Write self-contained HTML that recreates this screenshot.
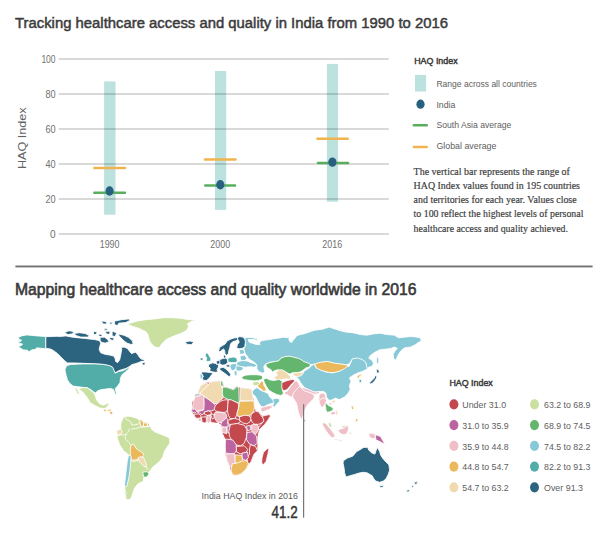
<!DOCTYPE html>
<html><head><meta charset="utf-8"><style>
html,body{margin:0;padding:0;background:#fff;width:611px;height:545px;overflow:hidden}
svg{display:block}
</style></head><body>
<svg width="611" height="545" viewBox="0 0 611 545">
<rect width="611" height="545" fill="#fff"/>
<g stroke="#fff" stroke-width="0.85" stroke-linejoin="round">
<polygon fill="#52ada9" points="18.5,337.5 21.5,335.9 26.7,334.9 31.8,335.4 37.1,335.9 45.8,336.5 45.8,348.8 41.1,348.3 37.1,347.8 35.0,349.4 31.8,349.9 28.8,351.9 27.7,350.3 23.6,349.9 21.5,348.8 19.0,347.3 18.5,346.2 21.0,345.7 22.6,344.2 19.5,343.2 16.9,342.6 20.5,341.6 21.5,340.0 19.0,339.5"/>
<polygon fill="#2c6480" points="45.8,336.7 57.2,336.3 59.2,336.6 65.8,335.9 72.6,337.2 79.2,337.9 85.9,338.5 89.7,339.1 94.7,339.6 99.7,340.7 100.7,343.6 99.7,346.7 99.2,349.6 100.7,352.7 104.7,354.2 109.7,355.1 113.7,356.1 115.2,358.7 115.7,361.6 117.7,362.6 119.7,359.7 120.8,354.6 121.7,349.6 121.2,347.2 124.7,347.2 127.7,348.7 129.7,351.6 131.7,353.7 133.7,352.7 135.7,352.2 137.7,354.6 139.7,357.6 141.7,359.2 145.2,359.7 143.6,361.1 140.7,361.6 138.7,362.6 135.7,363.6 131.7,364.7 129.7,366.6 127.7,367.6 125.7,368.6 121.7,369.7 118.7,370.7 115.7,372.6 113.7,370.7 111.7,366.6 104.7,364.7 99.7,364.2 89.7,363.6 75.5,363.0 67.4,362.9 64.3,360.5 61.4,357.4 57.4,353.5 53.3,350.4 50.4,349.0 45.8,348.2"/>
<polygon fill="#2c6480" points="64.5,332.3 69.1,330.8 73.6,331.5 72.8,333.8 67.7,334.6"/>
<polygon fill="#2c6480" points="73.7,333.5 79.4,332.7 85.2,333.5 89.4,335.7 88.0,337.1 80.8,337.1 76.5,335.7"/>
<polygon fill="#2c6480" points="93.7,331.2 97.1,332.1 96.2,334.6 93.4,334.3"/>
<polygon fill="#2c6480" points="98.9,333.9 102.4,334.7 101.4,336.5 98.9,336.5"/>
<polygon fill="#2c6480" points="100.1,337.2 104.6,337.2 107.5,339.4 109.0,341.7 105.4,343.1 101.6,342.4 100.1,340.2"/>
<polygon fill="#2c6480" points="105.4,331.3 110.2,331.3 109.4,334.6 106.2,333.8"/>
<polygon fill="#2c6480" points="112.1,331.2 116.7,332.7 115.2,336.6 112.1,335.9"/>
<polygon fill="#2c6480" points="118.3,333.9 124.1,335.3 128.3,337.3 131.9,340.3 133.3,343.7 131.1,344.5 126.9,343.1 124.1,340.9 121.1,338.1 119.1,335.9"/>
<polygon fill="#2c6480" points="109.4,337.2 114.2,338.0 113.3,340.5 110.1,339.7"/>
<polygon fill="#2c6480" points="101.4,320.9 106.1,321.6 107.0,324.0 103.0,324.0"/>
<polygon fill="#2c6480" points="114.5,321.1 121.6,319.7 128.7,318.9 130.1,320.3 125.9,322.5 118.7,323.2 117.8,325.3 115.9,325.3 114.5,323.9"/>
<polygon fill="#2c6480" points="104.1,328.8 107.6,328.8 106.8,330.5 104.5,330.5"/>
<polygon fill="#2c6480" points="109.7,322.2 112.4,322.2 111.7,324.3 109.7,324.0"/>
<polygon fill="#2c6480" points="185.4,341.8 190.1,341.0 193.9,342.1 191.2,344.7 186.6,344.2"/>
<polygon fill="#2c6480" points="142.1,362.8 144.8,362.1 145.2,364.8 142.5,365.2"/>
<polygon fill="#c9e0a0" points="127.1,324.3 132.5,322.4 137.8,321.0 145.8,319.7 153.8,319.0 159.2,318.3 164.5,317.7 172.6,317.7 180.6,318.3 188.7,319.7 196.0,319.9 191.3,321.6 187.3,323.7 188.7,326.3 186.6,330.3 181.9,333.0 176.6,335.0 171.3,337.1 165.9,339.7 161.9,343.7 159.2,347.8 155.2,347.1 151.2,343.7 149.2,339.7 147.9,334.4 145.8,331.7 139.1,328.4 132.5,326.3"/>
<polygon fill="#52ada9" points="66.7,365.6 70.9,364.4 82.5,363.9 94.3,363.9 103.5,364.4 109.5,365.6 112.9,367.4 114.1,370.8 115.3,373.2 118.8,371.4 122.3,370.8 126.9,368.5 129.9,366.2 129.3,368.0 126.9,370.8 122.3,374.4 120.5,377.9 120.0,382.6 117.6,386.1 115.3,388.4 116.4,394.2 115.3,394.8 113.6,389.6 110.6,388.4 105.9,389.0 101.2,389.6 97.7,390.8 95.4,393.1 93.0,391.4 90.7,389.6 87.2,387.8 82.5,387.3 77.8,386.7 73.1,386.1 69.6,383.2 67.3,379.6 66.2,375.5 64.9,369.7"/>
<polygon fill="#c9e0a0" points="78.8,388.4 83.6,387.7 87.2,387.7 89.6,389.5 92.5,391.4 94.4,393.7 95.6,396.9 96.8,400.1 99.4,403.5 102.9,405.2 105.4,404.4 108.0,402.7 108.8,404.4 106.2,407.8 103.7,408.6 99.4,407.8 94.3,405.2 90.0,402.7 88.3,399.2 85.9,395.9 83.0,392.2 79.9,390.1"/>
<polygon fill="#c9e0a0" points="74.1,386.4 77.0,388.7 79.3,393.3 78.2,395.1 75.9,391.0"/>
<polygon fill="#ebb95c" points="103.1,410.0 105.9,408.9 106.4,411.2 104.2,411.7"/>
<polygon fill="#ebb95c" points="106.7,410.0 110.8,409.0 112.4,410.0 109.8,411.2 107.7,411.2"/>
<polygon fill="#ebb95c" points="109.3,412.0 112.4,411.0 112.9,414.0 110.9,415.0"/>
<polygon fill="#c9e0a0" points="124.6,416.3 130.2,416.3 136.7,418.2 139.4,419.9 141.7,419.4 143.5,422.0 146.2,422.1 149.6,423.0 150.2,426.0 151.8,429.6 155.2,432.1 162.8,435.0 169.3,437.7 169.9,443.3 166.5,448.0 164.4,451.5 162.8,457.1 159.4,461.6 156.0,464.4 152.6,467.2 150.4,470.5 148.1,472.8 147.6,476.1 144.8,477.2 143.2,478.3 143.7,480.6 141.4,482.3 138.7,483.4 137.0,485.0 134.7,487.9 133.6,490.7 132.5,494.1 131.4,497.4 129.1,499.7 126.4,499.7 125.8,497.4 125.1,491.5 124.7,485.6 125.8,478.3 126.9,469.4 128.0,461.6 128.9,456.0 128.2,454.5 123.7,450.8 119.9,445.2 117.1,437.7 119.0,433.0 120.8,429.4 120.8,423.8 122.6,419.1"/>
<polygon fill="#ebb95c" points="139.8,420.3 141.7,419.8 143.7,422.9 143.0,426.8 141.1,426.8 140.2,423.6"/>
<polygon fill="#ebb95c" points="143.5,423.3 146.3,422.6 147.7,425.3 145.7,426.7 143.5,426.1"/>
<polygon fill="#c8c8c8" points="147.5,423.4 149.4,423.4 149.7,426.3 147.7,426.6"/>
<polygon fill="#f2dab0" points="116.6,430.4 120.5,429.1 122.4,431.7 120.5,435.0 117.9,435.5 116.6,433.0"/>
<polygon fill="#ebb95c" points="131.0,445.1 133.9,444.4 135.7,447.9 138.6,450.3 142.7,452.6 143.9,455.6 141.6,457.4 138.6,459.7 135.7,459.7 132.7,460.3 131.0,458.5 130.3,453.8 130.3,449.1"/>
<polygon fill="#f2dab0" points="137.9,457.8 141.1,456.6 143.5,457.8 145.3,461.5 146.5,465.2 145.3,467.1 142.8,465.2 140.4,462.7 138.6,460.3"/>
<polygon fill="#64b56e" points="142.7,472.2 147.0,471.6 149.0,473.7 147.0,477.0 143.7,477.0"/>
<polygon fill="#88c9d7" points="128.6,454.8 131.1,456.3 130.4,466.8 129.2,476.2 127.9,481.9 126.6,486.6 124.3,486.1 125.3,478.3 126.3,468.9 127.4,460.5"/>
<polygon fill="#88c9d7" points="124.6,492.0 126.3,492.3 126.0,494.4 124.6,494.1"/>
<polygon fill="#88c9d7" points="244.9,337.9 246.3,337.4 251.3,337.5 256.4,338.4 259.0,342.6 262.0,340.6 269.0,339.6 273.9,338.7 280.9,337.7 282.8,337.2 288.8,337.7 290.8,339.6 292.7,340.6 294.7,338.7 296.7,335.7 299.8,334.7 304.3,333.7 309.3,332.0 314.3,330.3 322.5,329.2 329.1,327.1 334.0,328.7 339.0,330.3 345.6,332.0 353.8,332.9 360.3,334.5 366.8,335.2 373.5,333.9 380.0,333.2 386.7,334.5 394.6,335.2 398.6,337.8 403.8,337.2 410.5,336.5 415.7,336.9 420.4,337.8 421.3,341.1 418.4,342.4 415.7,344.5 410.5,347.1 405.1,347.7 402.5,349.3 399.9,352.3 397.9,355.6 395.7,360.3 393.6,358.3 393.2,354.3 394.9,351.0 397.3,348.4 394.6,347.1 390.6,348.4 386.7,349.0 380.0,349.7 374.8,352.3 370.2,355.6 368.8,358.3 372.2,360.3 373.5,363.5 372.2,366.2 368.2,367.5 367.0,369.2 366.2,365.8 365.4,362.6 362.1,360.1 357.1,358.5 352.2,359.3 348.9,364.2 345.6,365.0 340.7,364.2 334.0,363.4 327.5,361.7 320.8,362.6 315.1,364.2 309.8,364.6 306.3,362.9 302.9,361.7 300.6,360.0 298.2,358.8 293.6,357.7 289.1,356.6 284.4,357.1 280.9,358.3 278.7,361.1 275.1,361.7 269.4,362.3 265.3,364.3 263.8,366.7 264.8,371.7 262.7,373.2 258.8,371.7 256.8,368.8 256.8,364.7 254.9,362.8 251.9,360.8 248.9,358.9 246.9,355.8 244.9,352.9 243.9,348.9 245.8,345.0 244.9,341.9"/>
<polygon fill="#ffffff" points="248.2,339.5 254.7,339.5 259.1,342.2 260.1,344.4 255.8,344.4 249.3,342.2"/>
<polygon fill="#ffffff" points="289.3,338.0 291.8,339.3 292.4,341.9 290.5,342.2 288.9,339.9"/>
<polygon fill="#88c9d7" points="376.9,356.9 378.7,357.5 378.7,362.3 377.5,364.6 376.3,361.1"/>
<polygon fill="#2c6480" points="218.7,350.5 219.7,347.3 222.5,345.6 225.1,344.0 227.3,340.8 230.5,339.2 233.7,338.1 237.5,337.6 238.6,339.2 235.9,340.8 232.6,341.8 230.5,344.0 229.9,347.3 228.9,350.5 228.3,353.7 226.7,355.2 225.1,354.2 224.6,350.5 223.6,348.9 221.3,350.5 219.7,352.1"/>
<polygon fill="#2c6480" points="237.1,337.7 239.8,336.6 242.6,337.1 244.8,338.8 245.4,342.1 244.8,346.5 242.6,348.2 239.3,348.8 236.5,347.7 237.6,344.3 239.3,342.1 238.2,339.9"/>
<polygon fill="#52ada9" points="205.7,352.9 208.0,353.3 209.2,355.8 210.9,358.6 210.7,361.3 207.5,361.5 206.0,360.4 206.7,358.1 205.2,355.8"/>
<polygon fill="#2c6480" points="200.2,358.0 203.0,358.0 203.0,360.1 200.2,360.1"/>
<polygon fill="#2c6480" points="208.6,364.5 212.6,362.8 215.4,363.4 218.7,365.0 218.1,367.8 217.0,369.6 218.1,371.8 215.4,372.3 212.0,371.8 209.7,370.7 210.3,368.3 208.6,366.7"/>
<polygon fill="#2c6480" points="201.1,372.1 205.0,371.9 210.5,372.6 213.3,373.2 211.6,374.8 209.4,378.1 206.6,380.4 203.9,380.4 202.2,378.7 203.3,375.9 201.7,374.3"/>
<polygon fill="#88c9d7" points="199.9,373.9 202.1,373.9 202.9,376.5 202.1,378.9 200.2,378.4"/>
<polygon fill="#2c6480" points="218.7,360.1 222.8,358.5 225.6,357.9 227.2,359.0 227.8,362.4 225.6,364.6 222.8,365.2 219.8,364.1 218.7,362.4"/>
<polygon fill="#52ada9" points="227.8,358.1 233.4,356.9 236.8,358.1 237.4,361.4 235.2,362.6 230.0,362.6 227.8,361.4"/>
<polygon fill="#2c6480" points="225.9,365.1 229.6,364.5 230.2,367.0 226.5,367.0"/>
<polygon fill="#2c6480" points="219.7,368.0 223.3,367.3 226.1,369.0 228.3,371.2 230.8,374.2 230.3,376.4 228.6,376.3 226.6,374.7 224.4,373.1 222.2,371.6 219.9,370.0"/>
<polygon fill="#88c9d7" points="231.0,363.9 235.7,363.4 237.9,366.2 235.7,368.5 233.3,370.9 231.0,369.7 229.9,366.8"/>
<polygon fill="#88c9d7" points="236.0,366.0 241.7,365.4 243.4,368.3 241.7,370.7 237.7,371.2 236.0,369.5"/>
<polygon fill="#88c9d7" points="234.1,371.0 236.6,370.4 237.2,374.7 235.4,375.9 234.1,373.5"/>
<polygon fill="#88c9d7" points="239.0,349.9 243.6,349.4 244.8,353.4 240.2,354.6"/>
<polygon fill="#88c9d7" points="240.0,355.9 244.6,355.3 247.0,358.3 244.6,360.6 240.5,360.1"/>
<polygon fill="#88c9d7" points="236.7,362.2 242.1,360.5 247.6,361.1 250.2,362.4 254.0,363.4 256.7,365.1 255.1,367.2 249.7,366.7 245.4,367.2 239.9,366.4 236.7,364.8"/>
<polygon fill="#64b56e" points="241.7,376.9 245.1,375.2 250.9,374.7 256.5,374.7 261.0,375.2 262.7,376.9 262.2,379.2 258.8,380.4 254.2,380.9 249.7,380.4 245.1,379.8 242.4,379.2"/>
<polygon fill="#2c6480" points="223.3,355.3 225.6,355.0 225.9,357.9 223.7,358.3"/>
<polygon fill="#2c6480" points="216.1,361.3 219.8,360.1 219.8,363.8 216.7,364.4"/>
<polygon fill="#64b56e" points="265.7,364.3 269.5,362.6 275.0,361.5 278.8,360.8 281.1,358.0 284.7,356.7 289.4,356.2 294.1,357.3 298.8,358.5 301.2,359.7 303.6,361.5 307.1,362.7 310.7,364.5 309.5,366.8 305.9,368.0 303.6,369.7 301.2,371.5 297.7,372.7 294.1,372.7 289.4,373.9 285.8,372.1 282.3,371.0 277.6,369.7 274.0,371.0 272.3,372.1 271.0,369.7 266.9,367.4"/>
<polygon fill="#ebb95c" points="314.5,364.0 320.4,362.3 327.3,361.4 334.1,363.1 340.9,364.0 346.0,364.8 349.4,366.6 346.0,369.1 340.9,370.8 335.7,372.5 329.0,372.5 322.2,370.8 317.0,369.1"/>
<polygon fill="#88c9d7" points="295.3,377.0 297.8,373.5 302.5,372.4 306.0,370.0 309.6,367.7 311.9,365.3 314.3,364.2 316.1,367.9 321.1,370.3 326.1,372.1 332.7,372.9 339.4,371.3 344.4,368.7 347.8,366.3 349.0,366.4 352.4,358.8 357.4,358.0 362.4,359.6 365.7,362.2 366.5,365.5 367.4,368.8 362.8,371.3 357.8,372.9 352.8,375.4 349.4,377.9 351.1,381.3 349.4,385.4 350.2,389.6 347.8,393.8 344.4,397.1 339.4,399.6 335.1,398.0 332.5,399.7 329.1,400.5 326.6,397.2 325.8,393.0 323.3,391.3 319.2,391.8 314.2,392.2 311.6,391.3 308.2,389.7 304.1,387.2 300.8,383.0 297.8,378.0"/>
<polygon fill="#f2dab0" points="273.8,377.1 277.3,375.4 276.1,372.6 278.3,370.2 281.8,369.7 285.2,371.4 287.5,373.7 290.9,377.1 289.9,379.4 286.4,378.8 283.0,379.4 279.5,380.0 276.1,380.0"/>
<polygon fill="#f2dab0" points="292.4,372.8 298.0,372.6 303.7,372.6 301.4,375.6 296.9,376.8 293.5,375.6"/>
<polygon fill="#64b56e" points="303.7,419.4 305.4,419.7 305.6,422.2 304.0,421.8"/>
<polygon fill="#88c9d7" points="251.9,391.9 254.4,388.9 257.0,387.6 261.3,390.6 264.7,391.9 268.2,393.6 269.8,397.1 272.5,399.6 274.7,401.4 273.7,403.1 269.8,403.9 266.5,405.3 263.8,406.9 261.3,406.5 258.7,403.1 257.0,399.6 255.2,396.2 252.7,394.0"/>
<polygon fill="#88c9d7" points="272.4,399.2 276.2,398.3 279.0,398.7 279.9,401.1 277.1,403.8 274.4,407.1 272.4,406.2 273.9,402.9"/>
<polygon fill="#efbec6" points="260.9,407.6 264.4,406.7 268.1,405.8 271.8,405.4 272.2,407.6 269.0,409.5 265.4,410.8 262.2,412.2 260.9,410.4"/>
<polygon fill="#ebb95c" points="257.4,384.9 260.3,382.5 261.5,380.7 263.3,381.9 263.9,385.4 265.7,387.9 266.3,390.2 263.9,391.5 261.0,389.0 258.0,387.2"/>
<polygon fill="#c9e0a0" points="252.6,382.1 257.1,381.5 260.0,382.3 258.9,384.6 256.0,385.8 253.0,385.2"/>
<polygon fill="#64b56e" points="263.1,379.4 266.5,378.2 269.9,379.9 274.4,380.4 278.8,379.4 282.2,381.1 282.7,385.5 282.2,388.8 283.4,393.4 281.0,395.6 276.6,394.4 272.1,392.2 268.7,390.0 266.5,386.6 264.8,383.3"/>
<polygon fill="#c3494f" points="281.8,382.8 285.9,381.0 290.5,379.8 294.0,379.3 294.5,381.6 291.7,383.9 289.4,386.8 287.0,389.7 283.5,390.8 281.8,388.0"/>
<polygon fill="#efbec6" points="284.5,392.1 287.2,391.2 289.7,387.7 292.4,384.1 294.1,381.6 296.8,380.7 298.5,383.3 300.2,386.8 298.5,388.5 295.8,391.2 293.3,394.7 292.8,397.3 289.7,396.4 287.2,394.7 284.5,394.3"/>
<polygon fill="#efbec6" points="292.8,394.1 295.3,390.7 297.9,388.1 299.6,386.4 301.3,386.9 303.8,389.9 305.6,390.7 308.9,391.5 310.7,392.4 313.2,394.1 314.6,396.6 313.2,399.2 310.7,401.7 308.1,404.3 306.4,406.8 305.1,409.4 303.8,412.9 302.6,417.1 301.8,419.2 300.4,418.0 299.2,414.5 297.9,410.3 297.1,406.0 296.2,402.7 294.5,400.1 292.8,397.5"/>
<polygon fill="#efbec6" points="300.7,387.1 304.6,388.3 308.6,389.4 312.2,391.1 314.9,392.0 320.2,391.5 318.7,393.7 314.3,394.3 310.0,392.6 305.1,391.1 303.3,390.2"/>
<polygon fill="#efbec6" points="319.0,394.9 321.7,393.0 324.6,393.6 325.9,396.7 325.9,399.2 324.8,398.5 321.8,399.1 318.9,401.9 319.0,399.6"/>
<polygon fill="#efbec6" points="318.9,401.3 321.8,398.5 324.7,397.9 326.6,400.4 325.6,403.3 323.7,406.2 321.8,407.7 320.3,405.2"/>
<polygon fill="#64b56e" points="324.9,404.5 326.9,403.5 328.4,405.5 330.8,406.4 333.2,408.3 332.7,410.4 329.9,411.8 326.9,412.3 325.9,409.8 325.5,406.4"/>
<polygon fill="#efbec6" points="328.8,402.3 331.8,403.0 331.2,405.3 329.5,404.7"/>
<polygon fill="#efbec6" points="330.6,411.9 334.7,411.5 335.8,414.0 332.6,415.1 331.0,414.0"/>
<polygon fill="#f2dab0" points="331.2,400.9 334.6,399.8 335.7,402.0 333.4,403.1"/>
<polygon fill="#f2dab0" points="335.5,410.5 337.5,410.1 338.0,414.2 336.0,415.7"/>
<polygon fill="#efbec6" points="322.6,422.7 325.5,423.1 328.7,426.8 332.3,431.3 334.9,435.1 334.6,437.7 331.5,437.5 328.0,433.6 325.2,429.6 322.5,425.1"/>
<polygon fill="#c9e0a0" points="328.0,423.0 330.6,422.5 331.7,425.8 330.6,427.9 329.0,425.8"/>
<polygon fill="#efbec6" points="337.7,429.9 340.6,428.9 343.3,428.0 346.2,426.0 347.7,425.1 348.7,428.0 347.7,431.8 345.8,434.6 342.5,434.6 339.6,432.8"/>
<polygon fill="#c9e0a0" points="340.2,427.0 344.5,425.3 346.1,426.3 343.4,428.0"/>
<polygon fill="#efbec6" points="334.4,438.8 337.8,439.3 337.6,440.6 334.4,440.1"/>
<polygon fill="#efbec6" points="338.7,439.6 342.1,440.2 341.9,441.4 338.7,440.9"/>
<polygon fill="#efbec6" points="349.1,432.2 351.6,432.5 351.3,434.2 349.1,433.9"/>
<polygon fill="#ebb95c" points="350.9,406.3 353.0,405.8 353.7,408.5 352.0,410.2"/>
<polygon fill="#ebb95c" points="355.2,419.4 357.4,418.2 358.1,421.0 355.7,422.2"/>
<polygon fill="#efbec6" points="368.5,433.2 374.1,433.2 376.0,437.8 372.2,438.8 369.4,436.8"/>
<polygon fill="#bc64a0" points="375.1,434.6 380.5,436.4 385.1,444.6 378.7,441.0 376.0,440.1"/>
<polygon fill="#ebb95c" points="357.0,376.4 358.7,375.1 361.4,374.1 362.4,375.1 359.7,376.4 358.3,378.7 357.3,378.7"/>
<polygon fill="#52ada9" points="358.9,379.7 361.2,379.3 361.7,382.1 359.4,383.1"/>
<polygon fill="#2c6480" points="369.5,382.9 371.8,380.6 374.1,378.3 375.4,375.4 376.9,375.8 376.4,378.3 374.6,380.9 372.4,383.2 370.4,384.0"/>
<polygon fill="#2c6480" points="376.2,369.1 378.8,369.7 379.3,372.8 376.8,373.2"/>
<polygon fill="#2c6480" points="343.3,460.8 347.4,458.1 352.7,456.2 356.7,451.5 359.4,450.1 363.5,447.5 367.5,447.2 368.8,450.1 371.5,452.8 374.9,454.1 376.2,450.1 377.5,447.5 379.6,451.5 380.9,455.5 383.6,459.5 386.3,462.2 388.9,464.9 389.6,470.2 388.3,474.2 386.3,478.3 383.6,481.0 379.6,482.3 375.6,481.0 373.5,478.3 372.2,475.7 369.5,474.2 367.5,472.9 363.5,472.3 359.4,472.9 355.4,474.2 350.1,475.7 346.0,477.0 344.6,472.9 344.0,467.6 343.1,463.6"/>
<polygon fill="#2c6480" points="379.4,485.6 383.7,485.8 382.8,487.6 380.2,487.4"/>
<polygon fill="#2c6480" points="406.4,490.4 409.9,489.4 408.7,492.0 406.4,491.7"/>
<polygon fill="#2c6480" points="410.9,485.8 413.6,485.5 412.9,487.8"/>
<polygon fill="#2c6480" points="414.2,482.3 417.7,481.5 416.7,484.2 414.5,484.2"/>
<polygon fill="#c3494f" stroke="#c3494f" points="200.7,387.0 203.2,384.5 205.6,383.3 209.7,382.9 213.8,381.7 218.7,381.3 222.4,381.7 222.8,384.5 222.8,387.8 226.1,387.4 229.4,388.6 233.5,389.9 236.7,387.0 238.4,387.8 240.6,388.3 247.2,388.8 251.3,389.6 252.1,396.2 253.6,401.4 253.6,406.8 255.5,411.7 258.5,412.2 262.4,416.6 269.3,415.1 269.8,416.6 267.3,420.5 264.4,424.5 261.4,427.4 259.5,429.4 258.5,431.0 257.5,433.8 257.0,437.0 257.0,442.8 257.0,451.0 253.7,454.3 252.1,458.4 250.5,462.5 248.0,464.1 245.6,469.0 241.5,473.1 237.4,474.7 233.3,474.7 231.6,470.6 230.0,466.6 227.6,460.8 225.9,454.3 225.6,446.1 225.9,439.5 224.0,435.0 222.3,432.0 222.3,427.4 221.3,424.5 218.4,422.5 214.0,422.0 210.5,421.5 206.6,421.5 204.6,422.5 202.2,422.0 199.2,418.6 195.8,417.6 194.3,414.6 192.4,411.7 191.9,409.7 192.9,407.8 192.4,402.4 195.8,397.9 195.0,397.0 198.7,393.5 198.7,391.5"/>
<polygon fill="#f2dab0" points="198.2,391.9 200.4,386.9 203.2,384.1 205.8,382.8 207.7,383.7 208.6,386.0 205.8,387.3 203.2,389.7 201.3,392.8 199.5,394.1"/>
<polygon fill="#f2dab0" points="207.9,385.5 209.5,382.5 213.8,381.3 218.9,380.8 220.7,382.1 221.5,385.9 222.4,388.5 222.8,394.5 223.6,397.0 222.4,398.8 219.9,400.5 216.4,403.9 213.8,403.1 209.5,400.5 205.2,397.0 201.5,394.5 200.1,393.1 202.7,390.2 206.2,387.6"/>
<polygon fill="#64b56e" points="220.6,381.2 222.5,381.2 223.0,384.6 222.1,387.7 220.6,384.6"/>
<polygon fill="#64b56e" points="222.4,387.5 225.8,387.1 229.3,388.3 233.7,389.7 237.0,386.6 238.8,387.5 239.3,403.1 237.0,402.6 231.9,400.5 227.5,399.2 223.2,397.0 222.4,393.5"/>
<polygon fill="#f2dab0" points="240.2,387.9 247.2,388.5 251.5,389.3 252.8,396.3 253.1,401.2 240.2,400.9"/>
<polygon fill="#efbec6" points="194.8,396.8 199.5,395.1 202.6,394.7 204.3,396.4 204.3,403.4 204.7,409.4 200.0,410.3 197.4,410.7 194.8,411.1 192.6,408.3 193.2,401.9"/>
<polygon fill="#c8c8c8" points="194.5,394.2 198.5,393.2 200.4,394.2 199.9,395.7 196.4,396.6 194.5,397.6"/>
<polygon fill="#bc64a0" points="203.8,396.5 209.9,400.4 215.1,404.8 216.0,406.1 215.1,409.2 211.7,410.9 207.3,410.9 203.8,413.5 202.1,414.8 199.5,413.1 196.9,411.8 203.8,410.0 204.2,403.1"/>
<polygon fill="#c3494f" points="215.9,404.9 220.3,401.4 223.7,400.1 226.8,399.7 228.1,400.5 228.1,404.9 227.7,409.3 226.4,412.0 222.9,412.4 219.4,412.0 215.9,411.0 214.1,409.3 215.1,406.2"/>
<polygon fill="#c3494f" points="228.4,399.6 231.7,400.0 236.1,402.2 238.7,403.9 238.3,409.1 236.9,414.3 235.2,418.6 230.1,418.6 228.4,415.2 227.4,410.8 227.8,404.8"/>
<polygon fill="#ebb95c" points="239.5,401.4 253.7,400.9 254.5,406.6 253.9,410.7 250.9,414.8 247.9,415.9 244.7,415.4 241.6,416.4 237.9,416.4 237.0,412.8 238.5,408.7 239.0,404.5"/>
<polygon fill="#efbec6" points="215.1,412.3 220.4,412.3 225.7,413.4 226.8,416.5 225.7,419.8 222.4,422.4 218.2,422.9 216.1,420.7 214.0,416.5"/>
<polygon fill="#bc64a0" points="191.4,409.4 195.0,408.8 196.8,411.3 195.0,413.1 192.0,411.9"/>
<polygon fill="#c3494f" points="193.8,414.3 199.0,413.9 201.2,416.1 199.4,419.0 195.5,417.8"/>
<polygon fill="#c3494f" points="204.1,412.0 208.7,410.9 211.5,412.6 210.9,414.8 207.6,415.4 204.6,414.3"/>
<polygon fill="#c3494f" points="201.3,417.2 205.8,416.7 207.0,420.6 204.7,422.9 201.9,422.3"/>
<polygon fill="#efbec6" points="206.9,415.6 210.2,415.1 210.8,421.8 208.0,423.5 206.9,420.7"/>
<polygon fill="#c3494f" points="210.6,414.2 213.7,414.2 214.3,417.9 212.4,419.1"/>
<polygon fill="#efbec6" points="197.6,418.2 201.3,418.2 201.9,421.3 198.8,421.3"/>
<polygon fill="#bc64a0" points="221.9,421.8 226.4,418.0 228.5,420.1 227.4,423.5 229.6,426.7 226.4,427.8 221.9,426.7 220.8,424.6"/>
<polygon fill="#c3494f" points="227.6,420.4 234.1,418.3 238.4,419.4 240.6,421.5 237.4,423.7 232.0,424.8 228.7,424.2"/>
<polygon fill="#c3494f" points="239.3,416.9 244.6,415.2 249.0,415.8 251.1,418.5 250.0,421.7 246.8,423.9 242.6,422.8 239.8,420.6"/>
<polygon fill="#c3494f" points="251.2,414.3 255.4,411.2 258.6,411.8 261.7,416.5 264.9,418.6 263.8,421.7 259.7,423.9 255.4,424.9 252.3,422.3 250.7,418.6"/>
<polygon fill="#c3494f" points="262.3,416.1 269.8,414.5 270.3,416.1 267.6,420.4 264.4,424.7 261.2,427.8 259.1,430.0 258.1,427.8 261.2,424.1 263.9,420.9"/>
<polygon fill="#efbec6" points="251.2,425.1 256.7,424.0 258.9,427.2 257.8,431.5 255.6,434.3 253.4,432.6 251.2,429.4"/>
<polygon fill="#bc64a0" points="246.3,426.1 250.3,425.5 250.9,429.6 247.5,430.8"/>
<polygon fill="#efbec6" points="222.0,427.0 226.6,427.0 226.6,433.7 222.0,432.3"/>
<polygon fill="#bc64a0" points="227.0,426.0 230.4,426.0 230.4,433.8 227.3,432.3"/>
<polygon fill="#c3494f" points="230.5,424.4 237.4,423.5 244.2,425.2 246.8,429.5 246.8,436.4 244.2,443.2 240.7,445.8 235.6,444.9 232.3,441.5 229.6,436.4 228.8,431.2"/>
<polygon fill="#bc64a0" points="225.6,439.0 232.6,439.9 236.0,444.3 237.0,449.5 234.3,453.9 229.1,453.9 225.6,452.9 225.3,446.0"/>
<polygon fill="#bc64a0" points="246.9,432.6 252.1,431.7 256.5,436.1 257.4,443.1 253.8,445.8 249.4,443.9 246.5,439.5"/>
<polygon fill="#c3494f" points="236.1,446.6 244.1,445.7 247.7,449.3 245.9,452.8 240.5,453.8 236.6,452.0"/>
<polygon fill="#c3494f" points="250.4,444.6 255.7,446.4 257.4,450.8 253.9,454.3 252.2,458.7 250.4,463.1 247.8,464.0 246.9,457.8 249.5,454.3 249.5,449.0"/>
<polygon fill="#bc64a0" points="242.0,453.1 247.5,452.1 248.4,457.7 245.7,460.4 242.0,458.6"/>
<polygon fill="#ebb95c" points="235.4,454.7 241.8,455.5 242.7,460.1 239.0,463.7 234.5,462.8"/>
<polygon fill="#efbec6" points="225.5,453.8 234.3,453.8 235.2,462.6 233.5,467.9 229.9,467.0 227.3,460.8"/>
<polygon fill="#ebb95c" points="232.1,463.9 237.3,463.0 241.6,461.2 246.8,460.4 248.5,463.9 246.0,469.1 241.6,473.4 237.3,475.1 232.9,475.1 231.1,470.8"/>
<polygon fill="#c3494f" points="263.5,452.3 266.9,448.9 269.1,448.0 267.9,454.1 266.1,461.2 263.5,464.7 261.6,463.0 262.0,457.7"/>
<polyline fill="none" stroke="#fff" stroke-width="0.8" stroke-linejoin="round" points="125.2,417.0 126.3,419.7 129.6,420.8 131.3,423.0 131.8,425.2 135.1,424.7 138.4,424.1 140.1,422.0"/><polyline fill="none" stroke="#fff" stroke-width="0.8" stroke-linejoin="round" points="129.6,428.5 128.5,431.8 126.3,434.0 125.2,436.8 125.8,439.5 128.5,442.3 131.3,445.0"/><polyline fill="none" stroke="#fff" stroke-width="0.8" stroke-linejoin="round" points="131.3,429.1 136.2,428.5 140.6,426.9 145.0,426.9 149.4,426.3"/><polyline fill="none" stroke="#fff" stroke-width="0.8" stroke-linejoin="round" points="118.6,434.0 123.0,435.1 126.3,434.0"/><polyline fill="none" stroke="#fff" stroke-width="0.8" stroke-linejoin="round" points="130.7,460.4 134.0,461.5 138.4,460.4"/><polyline fill="none" stroke="#fff" stroke-width="0.8" stroke-linejoin="round" points="146.1,466.0 147.0,468.5 148.3,470.0"/>
</g>
<rect x="104.1" y="81.4" width="11.4" height="133.3" fill="#bce2e0"/>
<rect x="215" y="71" width="11.2" height="138.9" fill="#bce2e0"/>
<rect x="326.9" y="63.9" width="11.1" height="137.8" fill="#bce2e0"/>
<rect x="58.7" y="58.10" width="330.1" height="1.8" fill="#000" fill-opacity="0.17"/>
<text x="55.6" y="62.6" font-family="Liberation Sans" font-size="10.2" font-weight="normal" fill="#707070" text-anchor="end" textLength="14.2" lengthAdjust="spacingAndGlyphs">100</text>
<rect x="58.7" y="93.10" width="330.1" height="1.8" fill="#000" fill-opacity="0.17"/>
<text x="55.6" y="97.6" font-family="Liberation Sans" font-size="10.2" font-weight="normal" fill="#707070" text-anchor="end" textLength="10.2" lengthAdjust="spacingAndGlyphs">80</text>
<rect x="58.7" y="128.10" width="330.1" height="1.8" fill="#000" fill-opacity="0.17"/>
<text x="55.6" y="132.6" font-family="Liberation Sans" font-size="10.2" font-weight="normal" fill="#707070" text-anchor="end" textLength="10.2" lengthAdjust="spacingAndGlyphs">60</text>
<rect x="58.7" y="163.10" width="330.1" height="1.8" fill="#000" fill-opacity="0.17"/>
<text x="55.6" y="167.6" font-family="Liberation Sans" font-size="10.2" font-weight="normal" fill="#707070" text-anchor="end" textLength="10.2" lengthAdjust="spacingAndGlyphs">40</text>
<rect x="58.7" y="198.10" width="330.1" height="1.8" fill="#000" fill-opacity="0.17"/>
<text x="55.6" y="202.6" font-family="Liberation Sans" font-size="10.2" font-weight="normal" fill="#707070" text-anchor="end" textLength="10.2" lengthAdjust="spacingAndGlyphs">20</text>
<rect x="58.7" y="233.10" width="330.1" height="1.8" fill="#000" fill-opacity="0.17"/>
<text x="55.6" y="237.6" font-family="Liberation Sans" font-size="10.2" font-weight="normal" fill="#707070" text-anchor="end" textLength="5.6" lengthAdjust="spacingAndGlyphs">0</text>
<line x1="94.35" y1="167.9" x2="124.95" y2="167.9" stroke="#efb44d" stroke-width="2.5" stroke-linecap="round"/>
<line x1="94.35" y1="192.7" x2="124.95" y2="192.7" stroke="#58ae5e" stroke-width="2.5" stroke-linecap="round"/>
<line x1="205.05" y1="159.6" x2="235.45" y2="159.6" stroke="#efb44d" stroke-width="2.5" stroke-linecap="round"/>
<line x1="205.25" y1="185.6" x2="235.05" y2="185.6" stroke="#58ae5e" stroke-width="2.5" stroke-linecap="round"/>
<line x1="317.45" y1="138.7" x2="347.65" y2="138.7" stroke="#efb44d" stroke-width="2.5" stroke-linecap="round"/>
<line x1="317.95" y1="162.9" x2="348.05" y2="162.9" stroke="#58ae5e" stroke-width="2.5" stroke-linecap="round"/>
<ellipse cx="109.6" cy="191" rx="4.1" ry="4.7" fill="#28607f"/>
<ellipse cx="220.3" cy="184.8" rx="4.1" ry="4.7" fill="#28607f"/>
<ellipse cx="332.4" cy="162.1" rx="4.1" ry="4.7" fill="#28607f"/>
<text x="109.6" y="247.8" font-family="Liberation Sans" font-size="10.4" font-weight="normal" fill="#707070" text-anchor="middle" textLength="19.8" lengthAdjust="spacingAndGlyphs">1990</text>
<text x="220.2" y="247.8" font-family="Liberation Sans" font-size="10.4" font-weight="normal" fill="#707070" text-anchor="middle" textLength="19.8" lengthAdjust="spacingAndGlyphs">2000</text>
<text x="332.2" y="247.8" font-family="Liberation Sans" font-size="10.4" font-weight="normal" fill="#707070" text-anchor="middle" textLength="19.8" lengthAdjust="spacingAndGlyphs">2016</text>
<text transform="translate(25.8,138.3) rotate(-90)" x="0" y="0" font-family="Liberation Sans" font-size="11.4" fill="#636363" text-anchor="middle" textLength="61.6" lengthAdjust="spacingAndGlyphs">HAQ Index</text>
<text x="15" y="28.0" font-family="Liberation Sans" font-size="15.4" font-weight="normal" fill="#3b3b3b" text-anchor="start" textLength="433" lengthAdjust="spacingAndGlyphs" stroke="#3b3b3b" stroke-width="0.5">Tracking healthcare access and quality in India from 1990 to 2016</text>
<text x="15" y="295.3" font-family="Liberation Sans" font-size="16.4" font-weight="normal" fill="#3b3b3b" text-anchor="start" textLength="401.5" lengthAdjust="spacingAndGlyphs" stroke="#3b3b3b" stroke-width="0.65">Mapping healthcare access and quality worldwide in 2016</text>
<text x="414.2" y="63.5" font-family="Liberation Sans" font-size="9.3" font-weight="normal" fill="#383838" text-anchor="start" textLength="43.4" lengthAdjust="spacingAndGlyphs" stroke="#383838" stroke-width="0.45">HAQ Index</text>
<rect x="415" y="74.9" width="11.1" height="16.6" fill="#bce2e0"/>
<ellipse cx="420.5" cy="104.2" rx="4.1" ry="4.6" fill="#28607f"/>
<line x1="413.85" y1="125.3" x2="426.75" y2="125.3" stroke="#58ae5e" stroke-width="2.5" stroke-linecap="round"/>
<line x1="413.85" y1="146.9" x2="426.75" y2="146.9" stroke="#efb44d" stroke-width="2.5" stroke-linecap="round"/>
<text x="436.4" y="87" font-family="Liberation Sans" font-size="9.5" font-weight="normal" fill="#5e5e5e" text-anchor="start" textLength="100.5" lengthAdjust="spacingAndGlyphs">Range across all countries</text>
<text x="436.4" y="107.9" font-family="Liberation Sans" font-size="9.5" font-weight="normal" fill="#5e5e5e" text-anchor="start" textLength="19" lengthAdjust="spacingAndGlyphs">India</text>
<text x="436.4" y="128" font-family="Liberation Sans" font-size="9.5" font-weight="normal" fill="#5e5e5e" text-anchor="start" textLength="75" lengthAdjust="spacingAndGlyphs">South Asia average</text>
<text x="436.4" y="149.1" font-family="Liberation Sans" font-size="9.5" font-weight="normal" fill="#5e5e5e" text-anchor="start" textLength="60" lengthAdjust="spacingAndGlyphs">Global average</text>
<text x="413.6" y="175.1" font-family="Liberation Serif" font-size="10.6" font-weight="normal" fill="#404040" text-anchor="start" textLength="156.3" lengthAdjust="spacingAndGlyphs" stroke="#404040" stroke-width="0.2">The vertical bar represents the range of</text>
<text x="413.6" y="189.2" font-family="Liberation Serif" font-size="10.6" font-weight="normal" fill="#404040" text-anchor="start" textLength="166.4" lengthAdjust="spacingAndGlyphs" stroke="#404040" stroke-width="0.2">HAQ Index values found in 195 countries</text>
<text x="413.6" y="203.3" font-family="Liberation Serif" font-size="10.6" font-weight="normal" fill="#404040" text-anchor="start" textLength="163" lengthAdjust="spacingAndGlyphs" stroke="#404040" stroke-width="0.2">and territories for each year. Values close</text>
<text x="413.6" y="217.4" font-family="Liberation Serif" font-size="10.6" font-weight="normal" fill="#404040" text-anchor="start" textLength="169.8" lengthAdjust="spacingAndGlyphs" stroke="#404040" stroke-width="0.2">to 100 reflect the highest levels of personal</text>
<text x="413.6" y="231.5" font-family="Liberation Serif" font-size="10.6" font-weight="normal" fill="#404040" text-anchor="start" textLength="154.3" lengthAdjust="spacingAndGlyphs" stroke="#404040" stroke-width="0.2">healthcare access and quality achieved.</text>
<rect x="15.4" y="265.5" width="577.2" height="1.9" fill="#727272"/>
<text x="449.4" y="386.2" font-family="Liberation Sans" font-size="9.3" font-weight="normal" fill="#383838" text-anchor="start" textLength="43.4" lengthAdjust="spacingAndGlyphs" stroke="#383838" stroke-width="0.45">HAQ Index</text>
<ellipse cx="453.9" cy="404.3" rx="4.5" ry="5.1" fill="#c3494f"/>
<text x="462.3" y="408.2" font-family="Liberation Sans" font-size="9.4" font-weight="normal" fill="#5e5e5e" text-anchor="start" textLength="43.8" lengthAdjust="spacingAndGlyphs">Under 31.0</text>
<ellipse cx="453.9" cy="425.1" rx="4.5" ry="5.1" fill="#bc64a0"/>
<text x="462.3" y="428.9" font-family="Liberation Sans" font-size="9.4" font-weight="normal" fill="#5e5e5e" text-anchor="start" textLength="46.4" lengthAdjust="spacingAndGlyphs">31.0 to 35.9</text>
<ellipse cx="453.9" cy="445.8" rx="4.5" ry="5.1" fill="#efbec6"/>
<text x="462.3" y="449.7" font-family="Liberation Sans" font-size="9.4" font-weight="normal" fill="#5e5e5e" text-anchor="start" textLength="46.4" lengthAdjust="spacingAndGlyphs">35.9 to 44.8</text>
<ellipse cx="453.9" cy="466.6" rx="4.5" ry="5.1" fill="#ebb95c"/>
<text x="462.3" y="470.4" font-family="Liberation Sans" font-size="9.4" font-weight="normal" fill="#5e5e5e" text-anchor="start" textLength="46.4" lengthAdjust="spacingAndGlyphs">44.8 to 54.7</text>
<ellipse cx="453.9" cy="487.3" rx="4.5" ry="5.1" fill="#f2dab0"/>
<text x="462.3" y="491.2" font-family="Liberation Sans" font-size="9.4" font-weight="normal" fill="#5e5e5e" text-anchor="start" textLength="46.4" lengthAdjust="spacingAndGlyphs">54.7 to 63.2</text>
<ellipse cx="534.5" cy="404.3" rx="4.5" ry="5.1" fill="#c9e0a0"/>
<text x="544" y="408.2" font-family="Liberation Sans" font-size="9.4" font-weight="normal" fill="#5e5e5e" text-anchor="start" textLength="46.4" lengthAdjust="spacingAndGlyphs">63.2 to 68.9</text>
<ellipse cx="534.5" cy="425.1" rx="4.5" ry="5.1" fill="#64b56e"/>
<text x="544" y="428.9" font-family="Liberation Sans" font-size="9.4" font-weight="normal" fill="#5e5e5e" text-anchor="start" textLength="46.4" lengthAdjust="spacingAndGlyphs">68.9 to 74.5</text>
<ellipse cx="534.5" cy="445.8" rx="4.5" ry="5.1" fill="#88c9d7"/>
<text x="544" y="449.7" font-family="Liberation Sans" font-size="9.4" font-weight="normal" fill="#5e5e5e" text-anchor="start" textLength="46.4" lengthAdjust="spacingAndGlyphs">74.5 to 82.2</text>
<ellipse cx="534.5" cy="466.6" rx="4.5" ry="5.1" fill="#52ada9"/>
<text x="544" y="470.4" font-family="Liberation Sans" font-size="9.4" font-weight="normal" fill="#5e5e5e" text-anchor="start" textLength="46.4" lengthAdjust="spacingAndGlyphs">82.2 to 91.3</text>
<ellipse cx="534.5" cy="487.3" rx="4.5" ry="5.1" fill="#2c6480"/>
<text x="544" y="491.2" font-family="Liberation Sans" font-size="9.4" font-weight="normal" fill="#5e5e5e" text-anchor="start" textLength="39" lengthAdjust="spacingAndGlyphs">Over 91.3</text>
<rect x="303" y="404.2" width="1.2" height="113.5" fill="#777"/>
<text x="201.6" y="498.8" font-family="Liberation Sans" font-size="9.2" font-weight="normal" fill="#5a5a5a" text-anchor="start" textLength="96.2" lengthAdjust="spacingAndGlyphs">India HAQ Index in 2016</text>
<text x="271.6" y="517.7" font-family="Liberation Sans" font-size="15.8" font-weight="normal" fill="#383838" text-anchor="start" textLength="26.2" lengthAdjust="spacingAndGlyphs" stroke="#383838" stroke-width="0.45">41.2</text>
</svg>
</body></html>
